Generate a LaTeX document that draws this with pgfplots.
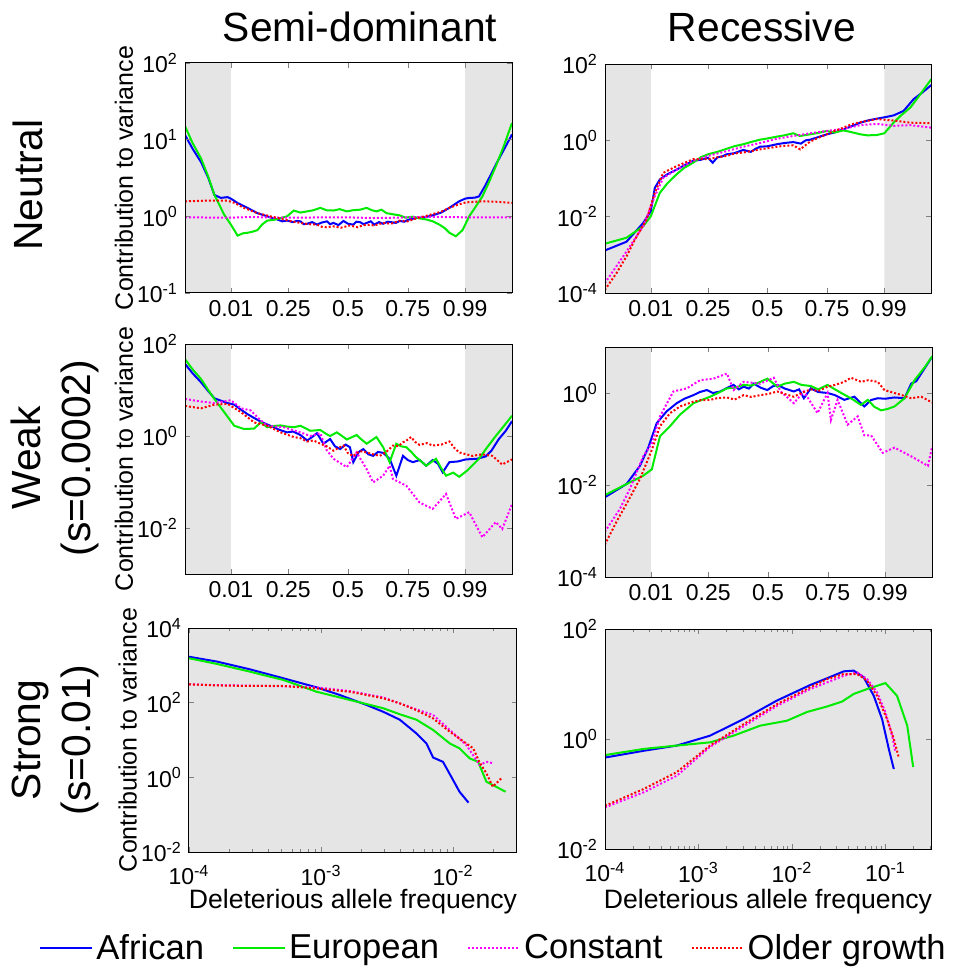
\documentclass[border=0pt]{standalone}
\usepackage{fontspec}
\setmainfont{Liberation Sans}
\usepackage{pgfplots}
\pgfplotsset{compat=1.18}
\definecolor{cB}{RGB}{0,0,255}
\definecolor{cG}{RGB}{0,235,0}
\definecolor{cM}{RGB}{255,0,255}
\definecolor{cR}{RGB}{255,0,0}
\definecolor{shade}{RGB}{229,229,229}
\newcommand\tickf{\fontsize{11.5}{13}\selectfont}
\newcommand\labf{\fontsize{12.5}{14}\selectfont}
\newcommand\xlabf{\fontsize{13.3}{15}\selectfont}
\newcommand\titf{\fontsize{20.4}{24}\selectfont}
\newcommand\legf{\fontsize{17.3}{20}\selectfont}
\pgfplotsset{
  myPanel/.style={scale only axis, axis on top, tick align=inside,
    major tick length=2.5pt, minor tick length=1.5pt, yminorticks=false,
    tick label style={font=\tickf}, label style={font=\labf}, no markers,
    anchor=north west, axis line style={line width=0.5pt}},
  myMid/.style={xmin=-0.182, xmax=1.186, xminorticks=false,
    xtick={0.01,0.25,0.5,0.75,0.99}, xticklabels={0.01,0.25,0.5,0.75,0.99}},
  myYl/.style={ylabel={Contribution to variance},
    ylabel style={at={(axis description cs:-0.187,0.5)}, anchor=center}},
  myBot/.style={xticklabel style={yshift=-3pt}, xlabel={Deleterious allele frequency}},
}
\tikzset{
  afr/.style={color=cB, line width=1pt},
  eur/.style={color=cG, line width=1pt},
  con/.style={color=cM, line width=1pt, dash pattern=on 1pt off 1pt},
  old/.style={color=cR, line width=1pt, dash pattern=on 1pt off 1pt},
}
\begin{document}
\begin{tikzpicture}
\useasboundingbox (0,0) rectangle (478pt,-484pt);
% ---------------- Top left: Neutral, semi-dominant
\begin{axis}[myPanel, myMid, myYl, ymode=log, at={(92.5pt,-31.5pt)}, width=163.5pt, height=115pt,
  ymin=1e-1, ymax=1e2, ytick={1e-1,1,10,100},
  yticklabels={10\textsuperscript{-1},10\textsuperscript{0},10\textsuperscript{1},10\textsuperscript{2}}]
\addplot[draw=none, fill=shade, forget plot] coordinates {(-0.3,1e-6) (0.01,1e-6) (0.01,1e6) (-0.3,1e6) (-0.3,1e-6)};
\addplot[draw=none, fill=shade, forget plot] coordinates {(0.99,1e-6) (1.3,1e-6) (1.3,1e6) (0.99,1e6) (0.99,1e-6)};
\addplot[afr] coordinates {(-0.182,11.5) (-0.15,7.6) (-0.115,5.1) (-0.085,3.2) (-0.059,1.9) (-0.032,1.74) (-0.004,1.78) (0.01,1.7) (0.038,1.49) (0.079,1.29) (0.121,1.1) (0.162,1.0) (0.204,0.91) (0.225,0.86) (0.245,0.88) (0.27,0.84) (0.285,0.87) (0.301,0.86) (0.315,0.79) (0.33,0.8) (0.35,0.84) (0.37,0.78) (0.39,0.83) (0.412,0.86) (0.425,0.79) (0.439,0.82) (0.46,0.77) (0.481,0.87) (0.5,0.8) (0.522,0.78) (0.535,0.85) (0.55,0.84) (0.565,0.79) (0.578,0.82) (0.595,0.86) (0.61,0.78) (0.63,0.84) (0.647,0.8) (0.665,0.85) (0.68,0.84) (0.7,0.82) (0.716,0.87) (0.735,0.85) (0.75,0.9) (0.785,0.95) (0.82,0.97) (0.854,1.03) (0.89,1.12) (0.924,1.29) (0.965,1.57) (0.99,1.7) (1.007,1.74) (1.03,1.75) (1.048,1.82) (1.076,2.58) (1.118,4.7) (1.15,7.2) (1.186,11.7)};
\addplot[eur] coordinates {(-0.182,15) (-0.15,9) (-0.115,5.7) (-0.085,3.3) (-0.059,1.9) (-0.018,1.05) (0.01,0.78) (0.038,0.56) (0.06,0.6) (0.079,0.61) (0.1,0.63) (0.121,0.66) (0.14,0.78) (0.162,0.88) (0.19,0.9) (0.218,0.95) (0.245,1.0) (0.273,1.19) (0.3,1.12) (0.329,1.16) (0.355,1.2) (0.384,1.29) (0.41,1.2) (0.439,1.19) (0.465,1.24) (0.495,1.16) (0.52,1.2) (0.55,1.22) (0.578,1.29) (0.6,1.2) (0.619,1.16) (0.64,1.22) (0.661,1.1) (0.69,1.06) (0.716,1.03) (0.74,0.96) (0.771,0.99) (0.8,0.94) (0.827,0.91) (0.855,0.86) (0.882,0.78) (0.905,0.7) (0.924,0.61) (0.951,0.55) (0.979,0.66) (1.007,1.0) (1.035,1.35) (1.062,1.82) (1.09,2.8) (1.118,4.5) (1.15,8) (1.186,16.5)};
\addplot[con] coordinates {(-0.182,0.97) (0.0,0.96) (0.1,0.98) (0.2,0.96) (0.3,0.96) (0.4,0.97) (0.5,0.97) (0.6,0.95) (0.7,0.96) (0.8,0.98) (0.9,0.98) (1.0,0.97) (1.186,0.97)};
\addplot[old] coordinates {(-0.182,1.57) (-0.1,1.6) (-0.004,1.6) (0.024,1.5) (0.065,1.29) (0.121,1.1) (0.176,1.0) (0.231,0.91) (0.265,0.86) (0.301,0.82) (0.335,0.79) (0.37,0.78) (0.39,0.73) (0.41,0.72) (0.439,0.74) (0.47,0.71) (0.508,0.76) (0.54,0.72) (0.56,0.76) (0.578,0.78) (0.61,0.76) (0.647,0.82) (0.68,0.8) (0.716,0.88) (0.75,0.86) (0.785,0.94) (0.82,1.0) (0.854,1.07) (0.89,1.15) (0.924,1.29) (0.96,1.42) (0.993,1.52) (1.062,1.57) (1.12,1.55) (1.186,1.5)};
\end{axis}
% ---------------- Top right: Neutral, recessive
\begin{axis}[myPanel, myMid, ymode=log, at={(302.5pt,-32pt)}, width=163pt, height=114.5pt,
  ymin=1e-4, ymax=1e2, ytick={1e-4,1e-2,1,100},
  yticklabels={10\textsuperscript{-4},10\textsuperscript{-2},10\textsuperscript{0},10\textsuperscript{2}}]
\addplot[draw=none, fill=shade, forget plot] coordinates {(-0.3,1e-6) (0.01,1e-6) (0.01,1e6) (-0.3,1e6) (-0.3,1e-6)};
\addplot[draw=none, fill=shade, forget plot] coordinates {(0.99,1e-6) (1.3,1e-6) (1.3,1e6) (0.99,1e6) (0.99,1e-6)};
\addplot[afr] coordinates {(-0.183,0.0013) (-0.092,0.0022) (-0.022,0.0068) (0.01,0.0138) (0.027,0.057) (0.048,0.094) (0.08,0.13) (0.118,0.17) (0.15,0.22) (0.188,0.29) (0.22,0.31) (0.25,0.35) (0.27,0.26) (0.29,0.36) (0.31,0.38) (0.328,0.43) (0.36,0.46) (0.398,0.56) (0.43,0.5) (0.45,0.6) (0.468,0.68) (0.5,0.7) (0.539,0.79) (0.57,0.85) (0.608,0.9) (0.64,0.82) (0.66,1.0) (0.679,1.04) (0.71,1.2) (0.749,1.44) (0.78,1.6) (0.819,1.95) (0.85,2.3) (0.889,2.9) (0.92,3.3) (0.959,3.7) (0.99,4.0) (1.029,4.5) (1.071,5.9) (1.113,12) (1.15,18) (1.187,28)};
\addplot[eur] coordinates {(-0.183,0.00195) (-0.092,0.0028) (-0.022,0.0056) (0.01,0.0102) (0.048,0.042) (0.08,0.075) (0.118,0.128) (0.15,0.19) (0.188,0.26) (0.22,0.36) (0.25,0.43) (0.29,0.5) (0.328,0.6) (0.36,0.7) (0.398,0.79) (0.43,0.9) (0.468,1.04) (0.5,1.12) (0.539,1.25) (0.57,1.35) (0.608,1.53) (0.636,1.3) (0.679,1.44) (0.71,1.55) (0.749,1.76) (0.78,1.6) (0.819,1.82) (0.85,1.65) (0.889,1.44) (0.92,1.35) (0.959,1.38) (0.99,1.53) (1.029,2.9) (1.06,4.5) (1.099,7.2) (1.141,16) (1.187,40)};
\addplot[con] coordinates {(-0.183,0.00018) (-0.092,0.00122) (-0.022,0.0056) (0.027,0.034) (0.062,0.104) (0.118,0.17) (0.188,0.29) (0.25,0.39) (0.328,0.52) (0.398,0.68) (0.468,0.85) (0.539,1.1) (0.608,1.3) (0.679,1.53) (0.749,1.76) (0.819,2.0) (0.889,2.5) (0.959,2.7) (1.029,2.4) (1.099,2.5) (1.187,2.15)};
\addplot[old] coordinates {(-0.183,0.00012) (-0.134,0.00033) (-0.092,0.00091) (-0.05,0.003) (-0.008,0.0083) (0.027,0.042) (0.062,0.14) (0.118,0.21) (0.188,0.32) (0.25,0.32) (0.29,0.36) (0.328,0.39) (0.36,0.45) (0.398,0.48) (0.43,0.52) (0.468,0.58) (0.5,0.62) (0.539,0.68) (0.57,0.72) (0.608,0.74) (0.637,0.58) (0.679,0.93) (0.71,1.15) (0.749,1.44) (0.78,1.75) (0.819,2.15) (0.85,2.6) (0.889,3.0) (0.959,3.6) (1.029,3.3) (1.099,2.9) (1.187,2.8)};
\end{axis}
% ---------------- Middle left: Weak, semi-dominant
\begin{axis}[myPanel, myMid, myYl, ymode=log, at={(92.5pt,-172pt)}, width=163.5pt, height=115pt,
  ymin=1e-3, ymax=1e2, ytick={1e-2,1,100},
  yticklabels={10\textsuperscript{-2},10\textsuperscript{0},10\textsuperscript{2}}]
\addplot[draw=none, fill=shade, forget plot] coordinates {(-0.3,1e-6) (0.01,1e-6) (0.01,1e6) (-0.3,1e6) (-0.3,1e-6)};
\addplot[draw=none, fill=shade, forget plot] coordinates {(0.99,1e-6) (1.3,1e-6) (1.3,1e6) (0.99,1e6) (0.99,1e-6)};
\addplot[afr] coordinates {(-0.182,37) (-0.15,23) (-0.115,14.7) (-0.085,9.5) (-0.059,6.6) (-0.004,5.2) (0.024,4.8) (0.05,3.8) (0.079,3.0) (0.105,2.5) (0.135,2.05) (0.16,1.8) (0.19,1.55) (0.215,1.35) (0.245,1.2) (0.27,1.25) (0.301,1.05) (0.329,0.8) (0.35,0.95) (0.37,1.15) (0.397,0.68) (0.425,0.86) (0.445,0.6) (0.467,0.52) (0.49,0.65) (0.508,0.57) (0.522,0.27) (0.545,0.45) (0.564,0.52) (0.585,0.4) (0.605,0.37) (0.625,0.45) (0.647,0.43) (0.674,0.32) (0.702,0.137) (0.73,0.37) (0.75,0.3) (0.771,0.27) (0.8,0.3) (0.827,0.226) (0.854,0.3) (0.876,0.25) (0.896,0.162) (0.924,0.27) (0.96,0.28) (0.993,0.31) (1.04,0.32) (1.076,0.36) (1.1,0.48) (1.131,0.86) (1.16,1.3) (1.186,2.1)};
\addplot[eur] coordinates {(-0.182,47) (-0.15,28) (-0.115,17.4) (-0.085,10) (-0.059,6.4) (-0.018,3.3) (0.024,1.67) (0.065,1.42) (0.107,1.45) (0.135,1.98) (0.162,1.55) (0.19,1.65) (0.218,1.7) (0.245,1.6) (0.273,1.55) (0.301,1.67) (0.342,1.3) (0.384,1.35) (0.41,1.1) (0.425,1.0) (0.453,1.2) (0.475,1.0) (0.495,0.84) (0.536,1.05) (0.555,0.85) (0.578,0.68) (0.619,0.95) (0.647,0.57) (0.674,0.27) (0.702,0.68) (0.72,0.6) (0.744,0.57) (0.765,0.45) (0.785,0.345) (0.8,0.3) (0.827,0.226) (0.868,0.32) (0.89,0.2) (0.91,0.137) (0.94,0.16) (0.965,0.13) (1.0,0.18) (1.048,0.32) (1.08,0.55) (1.118,1.0) (1.15,1.6) (1.186,2.76)};
\addplot[con] coordinates {(-0.182,6.4) (-0.115,5.6) (-0.059,5.2) (0.01,6.0) (0.052,4.0) (0.093,3.6) (0.121,2.55) (0.162,1.67) (0.231,1.55) (0.301,1.2) (0.342,1.0) (0.384,1.15) (0.41,0.5) (0.439,0.32) (0.495,0.21) (0.536,0.44) (0.578,0.19) (0.605,0.098) (0.647,0.137) (0.674,0.226) (0.688,0.116) (0.744,0.083) (0.799,0.036) (0.854,0.026) (0.91,0.055) (0.951,0.0158) (1.007,0.022) (1.062,0.0063) (1.118,0.0135) (1.145,0.0095) (1.186,0.033)};
\addplot[old] coordinates {(-0.182,4.5) (-0.115,4.0) (-0.059,4.8) (-0.004,5.0) (0.052,3.3) (0.107,1.98) (0.162,1.67) (0.218,1.2) (0.273,0.95) (0.3,0.9) (0.329,0.76) (0.355,0.8) (0.384,0.68) (0.41,0.6) (0.439,0.48) (0.46,0.55) (0.481,0.62) (0.5,0.42) (0.522,0.37) (0.55,0.47) (0.578,0.44) (0.605,0.4) (0.633,0.37) (0.66,0.45) (0.688,0.62) (0.71,0.6) (0.73,0.73) (0.745,0.8) (0.764,0.95) (0.78,0.75) (0.799,0.64) (0.83,0.7) (0.854,0.62) (0.89,0.65) (0.924,0.76) (0.945,0.55) (0.965,0.44) (1.02,0.37) (1.06,0.4) (1.104,0.37) (1.145,0.24) (1.186,0.31)};
\end{axis}
% ---------------- Middle right: Weak, recessive
\begin{axis}[myPanel, myMid, ymode=log, at={(302.5pt,-173.5pt)}, width=163.5pt, height=115pt,
  ymin=1e-4, ymax=10, ytick={1e-4,1e-2,1},
  yticklabels={10\textsuperscript{-4},10\textsuperscript{-2},10\textsuperscript{0}}]
\addplot[draw=none, fill=shade, forget plot] coordinates {(-0.3,1e-6) (0.01,1e-6) (0.01,1e6) (-0.3,1e6) (-0.3,1e-6)};
\addplot[draw=none, fill=shade, forget plot] coordinates {(0.99,1e-6) (1.3,1e-6) (1.3,1e6) (0.99,1e6) (0.99,1e-6)};
\addplot[afr] coordinates {(-0.183,0.0054) (-0.092,0.0105) (-0.036,0.026) (-0.001,0.065) (0.034,0.22) (0.076,0.4) (0.118,0.6) (0.15,0.75) (0.188,0.9) (0.215,1.05) (0.244,1.16) (0.27,1.0) (0.3,1.08) (0.33,1.3) (0.356,1.5) (0.378,1.2) (0.398,1.37) (0.42,1.25) (0.44,1.6) (0.47,1.3) (0.497,1.16) (0.52,1.4) (0.539,1.5) (0.57,1.25) (0.608,1.08) (0.63,1.2) (0.65,0.77) (0.679,1.26) (0.71,1.05) (0.749,1.0) (0.78,0.9) (0.819,0.71) (0.861,0.83) (0.903,0.51) (0.93,0.7) (0.959,0.77) (0.99,0.75) (1.029,0.8) (1.071,0.77) (1.099,1.6) (1.12,1.8) (1.141,2.65) (1.187,6.2)};
\addplot[eur] coordinates {(-0.183,0.006) (-0.092,0.0105) (-0.022,0.0159) (0.014,0.022) (0.048,0.115) (0.09,0.19) (0.132,0.34) (0.16,0.45) (0.188,0.6) (0.22,0.7) (0.258,0.83) (0.29,1.0) (0.328,1.26) (0.36,1.3) (0.398,1.5) (0.43,1.45) (0.468,1.75) (0.497,2.05) (0.539,1.37) (0.57,1.6) (0.608,1.75) (0.64,1.5) (0.679,1.42) (0.71,1.2) (0.749,1.5) (0.78,1.2) (0.819,0.92) (0.85,0.75) (0.889,0.55) (0.917,0.71) (0.945,0.5) (0.973,0.42) (1.0,0.45) (1.029,0.51) (1.071,0.77) (1.113,1.9) (1.155,3.6) (1.187,6.3)};
\addplot[con] coordinates {(-0.183,0.00096) (-0.12,0.003) (-0.078,0.0082) (-0.022,0.042) (0.014,0.08) (0.048,0.31) (0.104,1.08) (0.16,1.26) (0.216,1.9) (0.272,2.05) (0.328,2.65) (0.356,1.16) (0.398,1.75) (0.468,1.6) (0.524,2.15) (0.553,1.08) (0.608,0.6) (0.65,1.08) (0.707,0.365) (0.749,1.0) (0.763,0.26) (0.791,0.71) (0.833,0.205) (0.875,0.31) (0.903,0.12) (0.931,0.12) (0.98,0.05) (1.029,0.065) (1.099,0.042) (1.169,0.026) (1.187,0.07)};
\addplot[old] coordinates {(-0.183,0.0005) (-0.134,0.0016) (-0.092,0.0039) (-0.036,0.0135) (0.014,0.058) (0.048,0.19) (0.09,0.365) (0.132,0.51) (0.188,0.65) (0.22,0.7) (0.258,0.71) (0.29,0.78) (0.328,0.8) (0.36,0.72) (0.398,0.9) (0.43,0.82) (0.468,0.9) (0.5,0.95) (0.539,1.08) (0.57,0.95) (0.608,0.83) (0.64,1.0) (0.679,1.2) (0.71,1.1) (0.749,1.37) (0.78,1.5) (0.819,1.75) (0.847,2.15) (0.889,1.75) (0.92,1.9) (0.959,1.75) (0.987,1.16) (1.029,1.0) (1.06,0.9) (1.099,0.77) (1.141,0.83) (1.187,0.62)};
\end{axis}
% ---------------- Bottom left: Strong, semi-dominant
\begin{axis}[myPanel, myYl, myBot, xmode=log, ymode=log, at={(94.5pt,-314pt)}, width=164pt, height=112pt,
  axis background/.style={fill=shade},
  xmin=1e-4, xmax=0.0305, ymin=1e-2, ymax=1e4,
  xtick={1e-4,1e-3,1e-2},
  xticklabels={10\textsuperscript{-4},10\textsuperscript{-3},10\textsuperscript{-2}},
  minor xtick={2e-4,3e-4,4e-4,5e-4,6e-4,7e-4,8e-4,9e-4,2e-3,3e-3,4e-3,5e-3,6e-3,7e-3,8e-3,9e-3,2e-2,3e-2},
  ytick={1e-2,1,1e2,1e4},
  yticklabels={10\textsuperscript{-2},10\textsuperscript{0},10\textsuperscript{2},10\textsuperscript{4}},
  xlabel style={font=\xlabf, at={(axis description cs:0.5,-0.223)}, anchor=center},
  legend style={at={(0.93,-0.43)}, anchor=center, draw=none, fill=none, font=\legf,
    legend columns=4, /tikz/every even column/.append style={column sep=12.5pt},
    nodes={inner sep=1.5pt}},
  legend image code/.code={\draw[#1] (0pt,0pt) -- (26pt,0pt);}]
\addplot[afr] coordinates {(1e-4,1700) (1.63e-4,1260) (2.9e-4,780) (5.19e-4,450) (9.27e-4,257) (1.39e-3,160) (2.21e-3,87) (2.96e-3,57) (3.95e-3,35) (5.28e-3,15) (6.29e-3,8.1) (7.06e-3,3.4) (8.39e-3,2.6) (1e-2,0.85) (1.12e-2,0.41) (1.31e-2,0.21)};
\addplot[eur] coordinates {(1e-4,1550) (1.63e-4,1090) (2.9e-4,676) (5.19e-4,405) (9.27e-4,196) (1.66e-3,118) (2.96e-3,71) (3.95e-3,49) (5.28e-3,35) (7.06e-3,18.6) (9.44e-3,8.1) (1.12e-2,6.0) (1.34e-2,3.2) (1.55e-2,2.6) (1.79e-2,0.76) (2.12e-2,0.56) (2.5e-2,0.41)};
\addplot[con] coordinates {(1e-4,310) (1.63e-4,295) (2.9e-4,285) (5.19e-4,275) (9.27e-4,257) (1.66e-3,204) (2.96e-3,138) (5.28e-3,66) (7.06e-3,47) (9.44e-3,18.6) (1.26e-2,7.4) (1.59e-2,2.14) (1.79e-2,2.6) (2.04e-2,2.37)};
\addplot[old] coordinates {(1e-4,310) (1.63e-4,290) (2.9e-4,280) (5.19e-4,280) (9.27e-4,240) (1.66e-3,196) (2.96e-3,131) (3.95e-3,96) (5.28e-3,63) (7.06e-3,38) (9.44e-3,16.7) (1.26e-2,8.1) (1.42e-2,6.0) (1.59e-2,2.5) (1.79e-2,1.28) (2.0e-2,0.56) (2.32e-2,0.94)};
\legend{African,European,Constant,Older growth}
\end{axis}
% ---------------- Bottom right: Strong, recessive
\begin{axis}[myPanel, myBot, xmode=log, ymode=log, at={(302.5pt,-314.5pt)}, width=163pt, height=110pt,
  axis background/.style={fill=shade},
  xmin=1e-4, xmax=0.307, ymin=1e-2, ymax=1e2,
  xtick={1e-4,1e-3,1e-2,1e-1},
  xticklabels={10\textsuperscript{-4},10\textsuperscript{-3},10\textsuperscript{-2},10\textsuperscript{-1}},
  minor xtick={2e-4,3e-4,4e-4,5e-4,6e-4,7e-4,8e-4,9e-4,2e-3,3e-3,4e-3,5e-3,6e-3,7e-3,8e-3,9e-3,2e-2,3e-2,4e-2,5e-2,6e-2,7e-2,8e-2,9e-2,2e-1,3e-1},
  ytick={1e-2,1,1e2},
  yticklabels={10\textsuperscript{-2},10\textsuperscript{0},10\textsuperscript{2}},
  xlabel style={font=\xlabf, at={(axis description cs:0.5,-0.241)}, anchor=center}]
\addplot[afr] coordinates {(1e-4,0.46) (2.58e-4,0.61) (5.86e-4,0.76) (1.33e-3,1.15) (3.03e-3,2.3) (6.9e-3,5.0) (1.57e-2,9.6) (2.37e-2,12.7) (3.58e-2,17) (4.58e-2,17.5) (5.86e-2,13.2) (7.5e-2,6.1) (9.2e-2,2.3) (0.1086,0.66) (0.1228,0.285)};
\addplot[eur] coordinates {(1e-4,0.51) (2.58e-4,0.66) (5.86e-4,0.76) (1.33e-3,0.87) (2.37e-3,1.15) (4.58e-3,1.75) (8.83e-3,2.15) (1.45e-2,3.1) (2.37e-2,3.9) (3.44e-2,4.8) (4.58e-2,6.6) (6.37e-2,8.1) (0.1,10.4) (0.133,6.1) (0.171,1.75) (0.198,0.31)};
\addplot[con] coordinates {(1e-4,0.057) (2.58e-4,0.107) (5.86e-4,0.215) (1.33e-3,0.72) (3.03e-3,1.7) (6.9e-3,4.0) (1.57e-2,8.1) (3.58e-2,14.1) (4.97e-2,16.3) (6.37e-2,12.3) (8.15e-2,7.0) (0.1,3.05) (0.118,1.15) (0.128,0.57)};
\addplot[old] coordinates {(1e-4,0.061) (2.58e-4,0.123) (5.86e-4,0.25) (1.33e-3,0.76) (3.03e-3,1.85) (6.9e-3,4.3) (1.57e-2,8.7) (2.37e-2,12.3) (3.58e-2,15.2) (4.97e-2,15.2) (6.37e-2,11.5) (8.15e-2,6.1) (0.104,2.3) (0.1228,1.0) (0.139,0.46)};
\end{axis}
% ---------------- titles
\node[font=\titf] at (180pt,-13.5pt) {Semi-dominant};
\node[font=\titf] at (381pt,-13.5pt) {Recessive};
\node[font=\titf, rotate=90] at (14pt,-92.5pt) {Neutral};
\node[font=\titf, rotate=90, align=center] at (27.5pt,-229pt) {Weak\\[1pt](s=0.0002)};
\node[font=\titf, rotate=90, align=center] at (27.5pt,-370pt) {Strong\\[1pt](s=0.01)};
\end{tikzpicture}
\end{document}
